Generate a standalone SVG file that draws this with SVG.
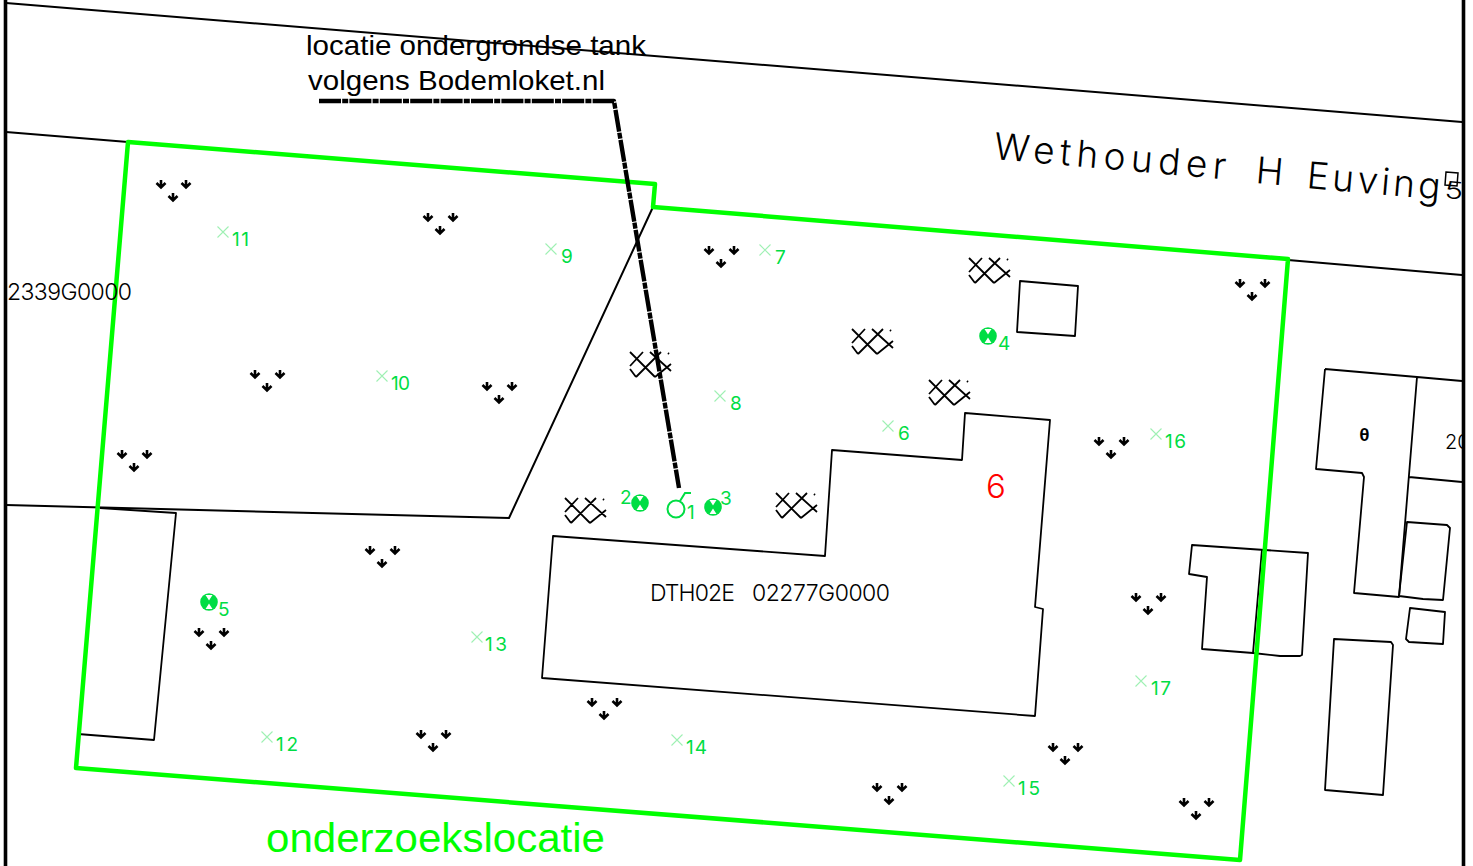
<svg xmlns="http://www.w3.org/2000/svg" xmlns:xlink="http://www.w3.org/1999/xlink" width="1473" height="866" viewBox="0 0 1473 866">
<style>
.l{fill:none;stroke:#000;stroke-width:2;stroke-linejoin:round;stroke-linecap:round}
.b{fill:none;stroke:#000;stroke-width:1.8;stroke-linejoin:round}
.g{fill:none;stroke:#00ff00;stroke-width:4.5;stroke-linejoin:round}
.cad{font-family:Inter,"Liberation Sans",sans-serif;font-weight:300;font-size:23px;fill:#000}
.n{font-family:Inter,"Liberation Sans",sans-serif;font-weight:400;font-size:19px;fill:#00dd44}
.s{font-family:"Liberation Sans",Arial,sans-serif;fill:#000;font-size:28px}
.st{font-family:Inter,"Liberation Sans",sans-serif;font-weight:300;font-size:37px;fill:#000}
.x{fill:none;stroke:#9ff0b4;stroke-width:1.1}
</style>
<defs>
<clipPath id="fr"><rect x="6" y="0" width="1456" height="866"/></clipPath>
<path id="a" d="M0,-4 V3 M-4.5,-1 L0,3.5 L4.5,-1" fill="none" stroke="#000" stroke-width="2.6"/>
<g id="tri"><use href="#a" x="-12" y="-6"/><use href="#a" x="13" y="-6"/><use href="#a" x="0" y="7"/></g>
<path id="h" d="M1,2 L26,27 M21,2 L42,21 M14,2 L1,16 M32,2 L7,27 M42,14 L26,27 M1,19 L7,27 M39,3 L40,4" fill="none" stroke="#000" stroke-width="1.8"/>
<path id="xm" d="M-5.5,-5.5 L5.5,5.5 M5.5,-5.5 L-5.5,5.5" class="x"/>
<g id="dot"><circle r="8.8" fill="#00dd44"/><path d="M-3.5,-7 H3.5 L0,-1.5 Z M-3.5,7 H3.5 L0,1.5 Z" fill="#fff"/></g>
</defs>

<g id="frame"><path d="M5.5,0 V866 M1463.5,0 V866" fill="none" stroke="#000" stroke-width="3.6"/></g>

<g id="parcels">
<path class="l" d="M6,3 L1462,122 M6,132 L128,142 M1288,260 L1462,275 M653,207 L509,518 L6,505"/>
<path class="b" d="M100,508 L176,513 L154,740 L78,734"/>
<path class="b" d="M1020,281 L1078,286 L1075,336 L1017,332 Z"/>
<path class="b" d="M553,536 L825,556 L832,450 L962,460 L965,413 L1050,420 L1035,607 L1043,609 L1035,716 L542,678 Z"/>
<path class="b" d="M1325,369 L1417,377 L1462,381 M1325,369 L1316,469 L1362,473 L1364,477 L1354,593 L1399,597 L1417,377 M1409,477 L1462,482"/>
<path class="b" d="M1407,522 L1447,525 L1450,528 L1443,600 L1423,599 L1399,596 Z"/>
<path class="b" d="M1410,608 L1445,612 L1443,644 L1409,642 L1406,639 Z"/>
<path class="b" d="M1334,639 L1391,642 L1393,645 L1383,795 L1325,790 Z"/>
<path class="b" d="M1192,545 L1308,553 L1302,655 L1300,656 L1280,656 L1253,653 L1202,649 L1207,577 L1189,574 Z M1262,549 L1253,653"/>
</g>

<g id="boundary"><path class="g" d="M128,142 L655,184 L653,207 L1288,259 L1240,860 L76,768 Z"/></g>

<g id="trees">
<use href="#tri" x="173" y="190"/><use href="#tri" x="440" y="223"/><use href="#tri" x="721" y="256"/><use href="#tri" x="1252" y="289"/>
<use href="#tri" x="267" y="380"/><use href="#tri" x="499" y="392"/><use href="#tri" x="134" y="460"/><use href="#tri" x="1111" y="447"/>
<use href="#tri" x="382" y="556"/><use href="#tri" x="211" y="638"/><use href="#tri" x="1148" y="603"/><use href="#tri" x="604" y="708"/>
<use href="#tri" x="433" y="740"/><use href="#tri" x="1065" y="753"/><use href="#tri" x="889" y="793"/><use href="#tri" x="1196" y="808"/>
</g>

<g id="hatches">
<use href="#h" x="968" y="256"/><use href="#h" x="851" y="327"/><use href="#h" x="629" y="350"/><use href="#h" x="928" y="378"/><use href="#h" x="564" y="496"/><use href="#h" x="775" y="491"/>
</g>

<g id="connectors">
<path d="M319,101 L614,101 L679,488" fill="none" stroke="#000" stroke-width="4.4" stroke-dasharray="22 1.2 6 1.2" stroke-linejoin="round"/>
</g>

<g id="m1"><circle cx="676" cy="509" r="8.5" fill="none" stroke="#00dd44" stroke-width="2"/><path d="M680,501 L685,493 H691" fill="none" stroke="#00dd44" stroke-width="2"/><text class="n" x="687" y="519">1</text></g>
<g id="m2"><use href="#dot" x="640" y="503"/><text class="n" x="620" y="504">2</text></g>
<g id="m3"><use href="#dot" x="713" y="507"/><text class="n" x="720" y="505">3</text></g>
<g id="m4"><use href="#dot" x="988" y="336"/><text class="n" x="998" y="350">4</text></g>
<g id="m5"><use href="#dot" x="209" y="602"/><text class="n" x="218" y="616">5</text></g>
<g id="m6"><use href="#xm" x="888" y="426"/><text class="n" x="898" y="440">6</text></g>
<g id="m7"><use href="#xm" x="765" y="250"/><text class="n" x="775" y="264">7</text></g>
<g id="m8"><use href="#xm" x="720" y="396"/><text class="n" x="730" y="410">8</text></g>
<g id="m9"><use href="#xm" x="551" y="249"/><text class="n" x="561" y="263">9</text></g>
<g id="m10"><use href="#xm" x="382" y="376"/><text class="n" x="391" y="390" textLength="19">10</text></g>
<g id="m11"><use href="#xm" x="223" y="232"/><text class="n" x="232" y="246" textLength="17">11</text></g>
<g id="m12"><use href="#xm" x="267" y="737"/><text class="n" x="276" y="751" textLength="22">12</text></g>
<g id="m13"><use href="#xm" x="477" y="637"/><text class="n" x="485" y="651" textLength="22">13</text></g>
<g id="m14"><use href="#xm" x="677" y="740"/><text class="n" x="686" y="754" textLength="21">14</text></g>
<g id="m15"><use href="#xm" x="1009" y="781"/><text class="n" x="1018" y="795" textLength="22">15</text></g>
<g id="m16"><use href="#xm" x="1156" y="434"/><text class="n" x="1165" y="448" textLength="21">16</text></g>
<g id="m17"><use href="#xm" x="1141" y="681"/><text class="n" x="1151" y="695" textLength="20">17</text></g>

<g id="labels" clip-path="url(#fr)">
<text class="s" x="306" y="55" textLength="340" lengthAdjust="spacingAndGlyphs">locatie ondergrondse tank</text>
<text class="s" x="308" y="90" textLength="297" lengthAdjust="spacingAndGlyphs">volgens Bodemloket.nl</text>
<text x="266" y="852" textLength="339" lengthAdjust="spacingAndGlyphs" style="font-family:'Liberation Sans',Arial,sans-serif;font-size:40px;fill:#00ff00">onderzoekslocatie</text>
<text class="st" transform="translate(993,159) rotate(5)" textLength="233">Wethouder</text>
<text class="st" transform="translate(1255,183) rotate(5)">H</text>
<text class="st" transform="translate(1306,188) rotate(5)" textLength="134">Euving</text>
<text class="cad" transform="translate(1444,198) rotate(5) scale(1.3,1)" style="font-size:24px">5</text>
<path d="M1446,172 L1458,173 L1457,186 L1445,185 Z" fill="none" stroke="#000" stroke-width="1.5"/>
<text class="cad" x="7" y="300" textLength="125">2339G0000</text>
<text class="cad" x="650" y="601" textLength="85">DTH02E</text>
<text class="cad" x="752" y="601" textLength="138">02277G0000</text>
<text x="1359" y="441" style="font-family:'Liberation Mono',monospace;font-size:18px;font-weight:bold;fill:#000">θ</text>
<text class="cad" x="1445" y="449" style="font-size:20px">20</text>
<text x="986" y="498" style="font-family:Inter,'Liberation Sans',sans-serif;font-weight:300;font-size:33px;fill:#ff0000">6</text>
</g>
</svg>
